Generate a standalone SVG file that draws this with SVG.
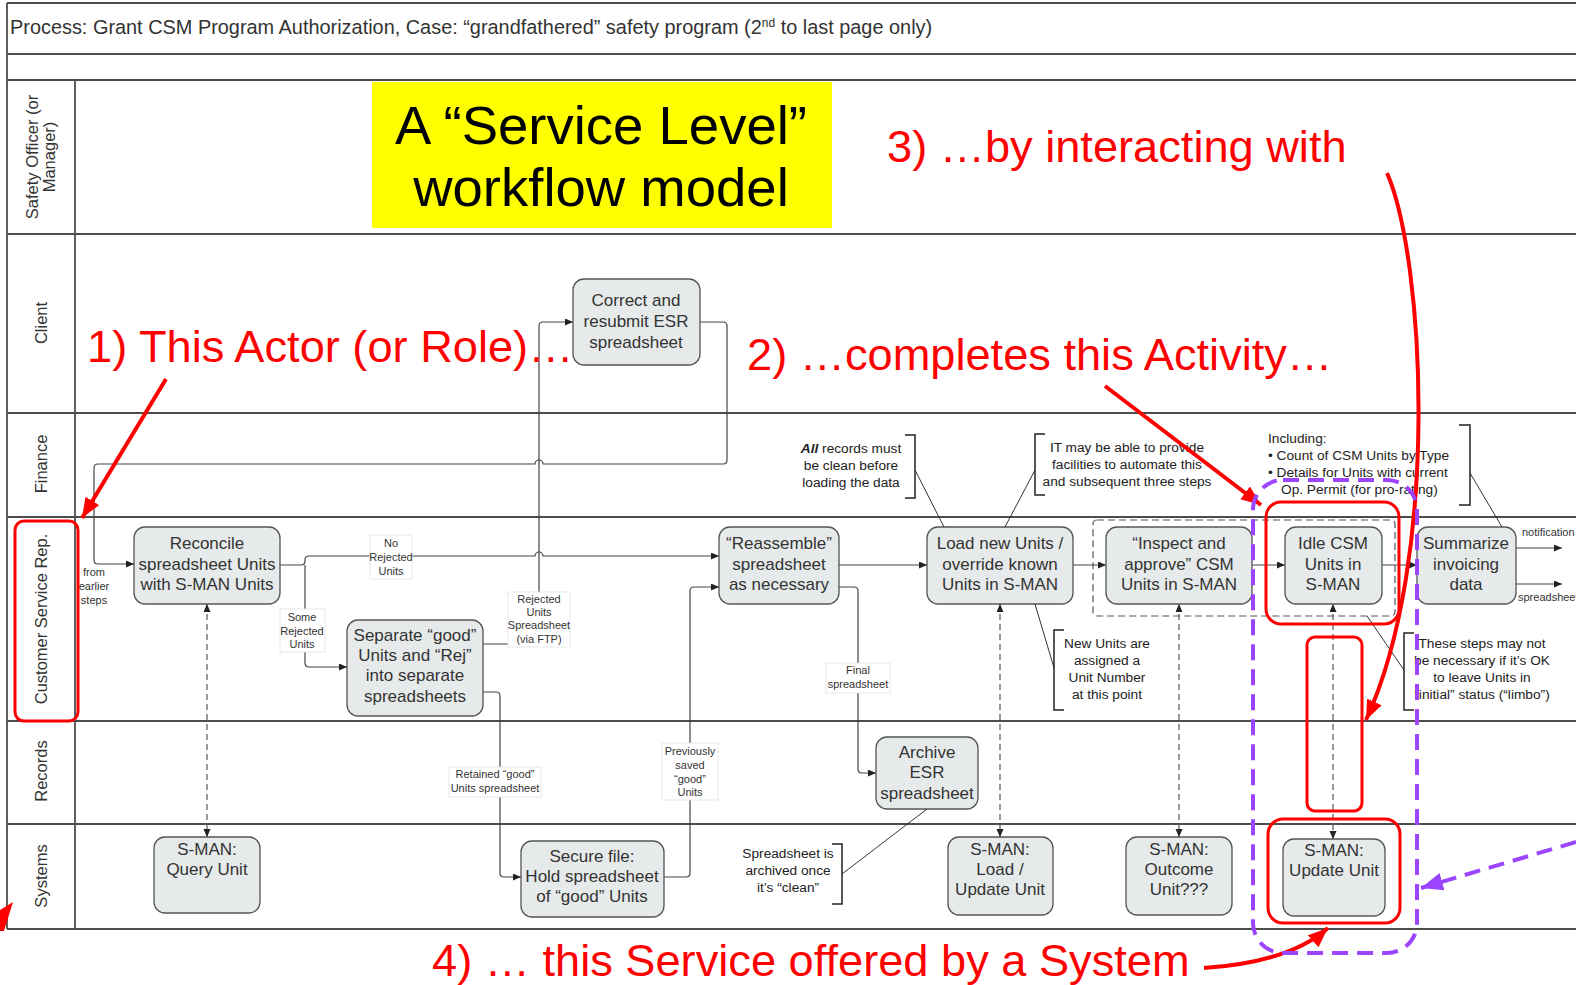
<svg xmlns="http://www.w3.org/2000/svg" width="1576" height="985" viewBox="0 0 1576 985">
<style>
.grid{stroke:#4d4d4d;stroke-width:1.8;fill:none}
.lane{font-family:"Liberation Sans",Arial,sans-serif;font-size:16.5px;fill:#333;text-anchor:middle}
.node rect{fill:#e6eaea;stroke:#555;stroke-width:1.3}
.node text{font-family:"Liberation Sans",Arial,sans-serif;font-size:17px;fill:#333;text-anchor:middle}
.conn{stroke:#444;stroke-width:1.2;fill:none}
.dash{stroke:#555;stroke-width:1.2;fill:none;stroke-dasharray:6 4}
.lbl{font-family:"Liberation Sans",Arial,sans-serif;font-size:11px;fill:#333;text-anchor:middle}
.lblbg{fill:#fff;stroke:#e2e2e2;stroke-width:0.8}
.ann{font-family:"Liberation Sans",Arial,sans-serif;font-size:13.7px;fill:#222}
.brk{stroke:#222;stroke-width:1.5;fill:none}
.aline{stroke:#333;stroke-width:1;fill:none}
.red{font-family:"Liberation Sans",Arial,sans-serif;font-size:45.2px;fill:#ff0000}
.rbox{fill:none;stroke:#ff0000;stroke-width:3}
.rarrow{fill:none;stroke:#ff0000;stroke-width:4}
.pdash{fill:none;stroke:#9b45ff;stroke-width:4;stroke-dasharray:16 9}
</style>
<defs>
<marker id="ah" markerUnits="userSpaceOnUse" markerWidth="9" markerHeight="8" refX="8" refY="3.5" orient="auto-start-reverse"><path d="M0,0 L8,3.5 L0,7 z" fill="#222"/></marker>
<marker id="rah" markerUnits="userSpaceOnUse" markerWidth="22" markerHeight="18" refX="20" refY="8" orient="auto"><path d="M0,0 L20,8 L0,16 z" fill="#ff0000"/></marker>
<marker id="pah" markerUnits="userSpaceOnUse" markerWidth="24" markerHeight="20" refX="22" refY="9" orient="auto"><path d="M0,0 L22,9 L0,18 z" fill="#9b45ff"/></marker>
<clipPath id="clipLeft"><rect x="77" y="560" width="60" height="60"/></clipPath>
</defs>
<rect x="0" y="0" width="1576" height="985" fill="#fff"/>

<g id="frame">
<line class="grid" x1="7" y1="3" x2="1576" y2="3"/>
<line class="grid" x1="7" y1="54" x2="1576" y2="54"/>
<line class="grid" x1="7" y1="80" x2="1576" y2="80"/>
<line class="grid" x1="7" y1="234" x2="1576" y2="234"/>
<line class="grid" x1="7" y1="413" x2="1576" y2="413"/>
<line class="grid" x1="7" y1="517" x2="1576" y2="517"/>
<line class="grid" x1="7" y1="721" x2="1576" y2="721"/>
<line class="grid" x1="7" y1="824" x2="1576" y2="824"/>
<line class="grid" x1="7" y1="929" x2="1576" y2="929"/>
<line class="grid" x1="7" y1="3" x2="7" y2="929"/>
<line class="grid" x1="75" y1="80" x2="75" y2="929"/>
<text x="10" y="34" font-family="Liberation Sans,Arial,sans-serif" font-size="19.9" fill="#333">Process: Grant CSM Program Authorization, Case: “grandfathered” safety program (2<tspan font-size="12" dy="-7">nd</tspan><tspan dy="7"> to last page only)</tspan></text>
<text class="lane" transform="translate(41,157) rotate(-90)"><tspan x="0" y="-3">Safety Officer (or</tspan><tspan x="0" y="14">Manager)</tspan></text>
<text class="lane" transform="translate(41,323) rotate(-90)" y="6">Client</text>
<text class="lane" transform="translate(41,464) rotate(-90)" y="6">Finance</text>
<text class="lane" transform="translate(41,619) rotate(-90)" y="6">Customer Service Rep.</text>
<text class="lane" transform="translate(41,771) rotate(-90)" y="6">Records</text>
<text class="lane" transform="translate(41,876) rotate(-90)" y="6">Systems</text>
</g>

<g id="title-box">
<rect x="372" y="82" width="460" height="146" fill="#ffff00"/>
<text x="601" y="144" font-family="Liberation Sans,Arial,sans-serif" font-size="54.5" fill="#000" text-anchor="middle">A “Service Level”</text>
<text x="601" y="206" font-family="Liberation Sans,Arial,sans-serif" font-size="54.5" fill="#000" text-anchor="middle">workflow model</text>
</g>

<g id="connectors">
<path class="conn" marker-end="url(#ah)" d="M700,322 L723,322 Q727,322 727,326 L727,460 Q727,464 723,464 L543,464 A4,4 0 0 0 535,464 L98,464 Q94,464 94,468 L94,560 Q94,564 98,564 L134,564"/>
<path class="conn" marker-end="url(#ah)" d="M280,565 L301,565 Q305,565 305,561 L305,560 Q305,556 309,556 L535,556 A4,4 0 0 1 543,556 L719,556"/>
<path class="conn" marker-end="url(#ah)" d="M305,565 L305,663 Q305,667 309,667 L347,667"/>
<path class="conn" marker-end="url(#ah)" d="M483,644 L535,644 Q539,644 539,640 L539,326 Q539,322 543,322 L573,322"/>
<path class="conn" marker-end="url(#ah)" d="M483,692 L496,692 Q500,692 500,696 L500,873 Q500,877 504,877 L521,877"/>
<path class="conn" marker-end="url(#ah)" d="M664,877 L686,877 Q690,877 690,873 L690,591 Q690,587 694,587 L719,587"/>
<path class="conn" marker-end="url(#ah)" d="M839,565 L927,565"/>
<path class="conn" marker-end="url(#ah)" d="M839,587 L854,587 Q858,587 858,591 L858,769 Q858,773 862,773 L876,773"/>
<path class="conn" marker-end="url(#ah)" d="M1073,565 L1106,565"/>
<path class="conn" marker-end="url(#ah)" d="M1252,565 L1285,565"/>
<path class="conn" marker-end="url(#ah)" d="M1382,565 L1417,565"/>
<path class="conn" marker-end="url(#ah)" d="M1516,548 L1562,548"/>
<path class="conn" marker-end="url(#ah)" d="M1516,584 L1562,584"/>
<path class="dash" marker-start="url(#ah)" marker-end="url(#ah)" d="M207,604 L207,837"/>
<path class="dash" marker-start="url(#ah)" marker-end="url(#ah)" d="M1000,604 L1000,837"/>
<path class="dash" marker-start="url(#ah)" marker-end="url(#ah)" d="M1179,604 L1179,837"/>
<path class="dash" marker-start="url(#ah)" marker-end="url(#ah)" d="M1333,604 L1333,839"/>
<rect x="1093" y="520" width="302" height="96" rx="4" fill="none" stroke="#555" stroke-width="1.2" stroke-dasharray="7 4"/>
</g>

<g id="connector-labels">
<g clip-path="url(#clipLeft)"><text class="lbl" x="94" y="576">from</text><text class="lbl" x="94" y="590">earlier</text><text class="lbl" x="94" y="604">steps</text></g>
<rect class="lblbg" x="370" y="535" width="42" height="44"/>
<text class="lbl" x="391" y="547">No</text><text class="lbl" x="391" y="561">Rejected</text><text class="lbl" x="391" y="575">Units</text>
<rect class="lblbg" x="280" y="609" width="45" height="43"/>
<text class="lbl" x="302" y="621">Some</text><text class="lbl" x="302" y="635">Rejected</text><text class="lbl" x="302" y="648">Units</text>
<rect class="lblbg" x="508" y="592" width="62" height="55"/>
<text class="lbl" x="539" y="603">Rejected</text><text class="lbl" x="539" y="616">Units</text><text class="lbl" x="539" y="629">Spreadsheet</text><text class="lbl" x="539" y="643">(via FTP)</text>
<rect class="lblbg" x="449" y="767" width="92" height="30"/>
<text class="lbl" x="495" y="778">Retained “good”</text><text class="lbl" x="495" y="792">Units spreadsheet</text>
<rect class="lblbg" x="662" y="743" width="56" height="57"/>
<text class="lbl" x="690" y="755">Previously</text><text class="lbl" x="690" y="769">saved</text><text class="lbl" x="690" y="783">“good”</text><text class="lbl" x="690" y="796">Units</text>
<rect class="lblbg" x="826" y="663" width="64" height="30"/>
<text class="lbl" x="858" y="674">Final</text><text class="lbl" x="858" y="688">spreadsheet</text>
<text class="lbl" x="1522" y="536" style="text-anchor:start">notification</text>
<text class="lbl" x="1518" y="601" style="text-anchor:start">spreadsheet</text>
</g>

<g id="n-correct" class="node"><rect x="573" y="279" width="127" height="86" rx="11"/><text x="636" y="306">Correct and</text><text x="636" y="327">resubmit ESR</text><text x="636" y="348">spreadsheet</text></g>
<g id="n-reconcile" class="node"><rect x="134" y="527" width="146" height="77" rx="11"/><text x="207" y="549">Reconcile</text><text x="207" y="570">spreadsheet Units</text><text x="207" y="590">with S-MAN Units</text></g>
<g id="n-separate" class="node"><rect x="347" y="620" width="136" height="96" rx="11"/><text x="415" y="641">Separate “good”</text><text x="415" y="661">Units and “Rej”</text><text x="415" y="681">into separate</text><text x="415" y="702">spreadsheets</text></g>
<g id="n-reassemble" class="node"><rect x="719" y="527" width="120" height="77" rx="11"/><text x="779" y="549">“Reassemble”</text><text x="779" y="570">spreadsheet</text><text x="779" y="590">as necessary</text></g>
<g id="n-load" class="node"><rect x="927" y="527" width="146" height="77" rx="11"/><text x="1000" y="549">Load new Units /</text><text x="1000" y="570">override known</text><text x="1000" y="590">Units in S-MAN</text></g>
<g id="n-inspect" class="node"><rect x="1106" y="527" width="146" height="77" rx="11"/><text x="1179" y="549">“Inspect and</text><text x="1179" y="570">approve” CSM</text><text x="1179" y="590">Units in S-MAN</text></g>
<g id="n-idle" class="node"><rect x="1285" y="527" width="97" height="77" rx="11"/><text x="1333" y="549">Idle CSM</text><text x="1333" y="570">Units in</text><text x="1333" y="590">S-MAN</text></g>
<g id="n-summarize" class="node"><rect x="1417" y="527" width="99" height="77" rx="11"/><text x="1466" y="549">Summarize</text><text x="1466" y="570">invoicing</text><text x="1466" y="590">data</text></g>
<g id="n-archive" class="node"><rect x="876" y="737" width="102" height="72" rx="11"/><text x="927" y="758">Archive</text><text x="927" y="778">ESR</text><text x="927" y="799">spreadsheet</text></g>
<g id="n-query" class="node"><rect x="154" y="837" width="106" height="76" rx="11"/><text x="207" y="855">S-MAN:</text><text x="207" y="875">Query Unit</text></g>
<g id="n-secure" class="node"><rect x="521" y="841" width="143" height="76" rx="11"/><text x="592" y="862">Secure file:</text><text x="592" y="882">Hold spreadsheet</text><text x="592" y="902">of “good” Units</text></g>
<g id="n-loadupdate" class="node"><rect x="948" y="837" width="105" height="78" rx="11"/><text x="1000" y="855">S-MAN:</text><text x="1000" y="875">Load /</text><text x="1000" y="895">Update Unit</text></g>
<g id="n-outcome" class="node"><rect x="1126" y="837" width="106" height="78" rx="11"/><text x="1179" y="855">S-MAN:</text><text x="1179" y="875">Outcome</text><text x="1179" y="895">Unit???</text></g>
<g id="n-update" class="node"><rect x="1283" y="839" width="102" height="77" rx="11"/><text x="1334" y="856">S-MAN:</text><text x="1334" y="876">Update Unit</text></g>

<g id="annotations">
<path class="brk" d="M905,435 L915,435 L915,498 L905,498"/>
<text class="ann" x="851" y="453" text-anchor="middle"><tspan font-weight="bold" font-style="italic">All</tspan> records must</text>
<text class="ann" x="851" y="470" text-anchor="middle">be clean before</text>
<text class="ann" x="851" y="487" text-anchor="middle">loading the data</text>
<path class="aline" d="M915,470 L944,527"/>
<path class="brk" d="M1045,434 L1035,434 L1035,495 L1045,495"/>
<text class="ann" x="1127" y="452" text-anchor="middle">IT may be able to provide</text>
<text class="ann" x="1127" y="469" text-anchor="middle">facilities to automate this</text>
<text class="ann" x="1127" y="486" text-anchor="middle">and subsequent three steps</text>
<path class="aline" d="M1035,470 L1005,527"/>
<path class="brk" d="M1459,425 L1470,425 L1470,505 L1459,505"/>
<text class="ann" x="1268" y="443">Including:</text>
<text class="ann" x="1268" y="460">• Count of CSM Units by Type</text>
<text class="ann" x="1268" y="477">• Details for Units with current</text>
<text class="ann" x="1281" y="494">Op. Permit (for pro-rating)</text>
<path class="aline" d="M1470,473 L1502,527"/>
<path class="brk" d="M1064,630 L1054,630 L1054,710 L1064,710"/>
<text class="ann" x="1107" y="648" text-anchor="middle">New Units are</text>
<text class="ann" x="1107" y="665" text-anchor="middle">assigned a</text>
<text class="ann" x="1107" y="682" text-anchor="middle">Unit Number</text>
<text class="ann" x="1107" y="699" text-anchor="middle">at this point</text>
<path class="aline" d="M1035,604 L1054,668"/>
<path class="brk" d="M1414,633 L1404,633 L1404,710 L1414,710"/>
<text class="ann" x="1482" y="648" text-anchor="middle">These steps may not</text>
<text class="ann" x="1482" y="665" text-anchor="middle">be necessary if it’s OK</text>
<text class="ann" x="1482" y="682" text-anchor="middle">to leave Units in</text>
<text class="ann" x="1482" y="699" text-anchor="middle">“initial” status (“limbo”)</text>
<path class="aline" d="M1367,616 L1404,670"/>
<path class="brk" d="M832,844 L842,844 L842,904 L832,904"/>
<text class="ann" x="788" y="858" text-anchor="middle">Spreadsheet is</text>
<text class="ann" x="788" y="875" text-anchor="middle">archived once</text>
<text class="ann" x="788" y="892" text-anchor="middle">it’s “clean”</text>
<path class="aline" d="M842,874 L927,809"/>
</g>

<g id="callouts">
<text class="red" x="887" y="162">3) …by interacting with</text>
<text class="red" x="87" y="362">1) This Actor (or Role)…</text>
<text class="red" x="747" y="370">2) …completes this Activity…</text>
<text class="red" x="432" y="976">4) … this Service offered by a System</text>
<rect class="rbox" x="15" y="521" width="63" height="200" rx="9"/>
<path class="rarrow" marker-end="url(#rah)" d="M166,379 L82,518"/>
<path class="rarrow" marker-end="url(#rah)" d="M1105,386 L1261,505"/>
<rect class="rbox" x="1266" y="502" width="133" height="122" rx="15"/>
<rect class="rbox" x="1307" y="637" width="55" height="174" rx="8"/>
<path class="rarrow" marker-end="url(#rah)" d="M1387,173 C1425,260 1440,560 1366,720"/>
<rect class="rbox" x="1268" y="819" width="132" height="104" rx="15"/>
<path class="rarrow" marker-end="url(#rah)" d="M1204,968 Q1290,962 1328,928"/>
<polygon points="0,910 13,902 4,931 0,931" fill="#ff0000"/>
<rect class="pdash" x="1253" y="480" width="164" height="473" rx="30"/>
<path class="pdash" marker-end="url(#pah)" d="M1576,842 L1421,888"/>
</g>
</svg>
